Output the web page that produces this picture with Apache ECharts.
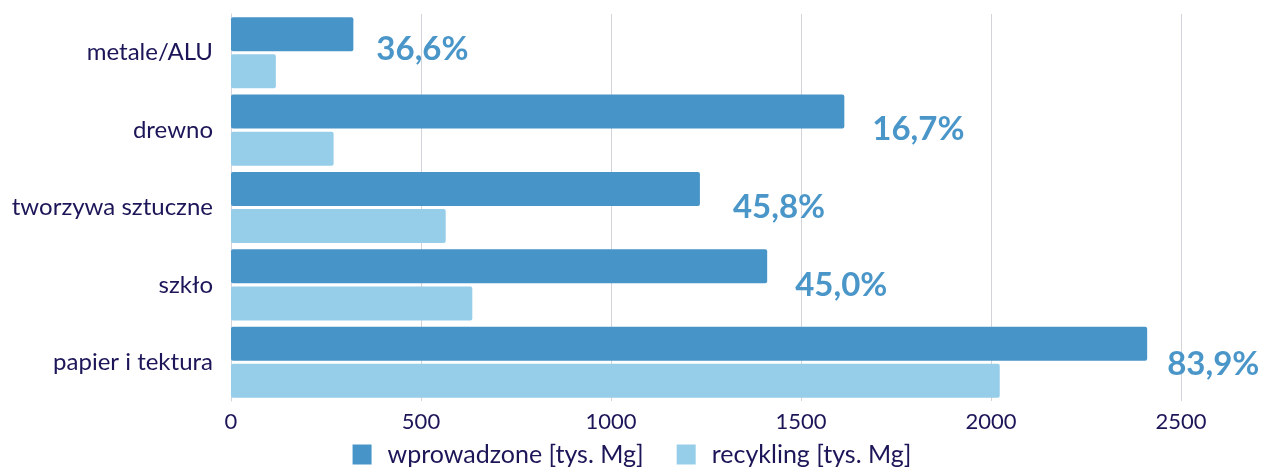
<!DOCTYPE html>
<html>
<head>
<meta charset="utf-8">
<script src="https://cdn.jsdelivr.net/npm/echarts@6/dist/echarts.min.js"></script>
<style>
  html, body { margin: 0; padding: 0; background: #ffffff; }
  #chart { width: 1264px; height: 469px; }
</style>
</head>
<body>
<div id="chart"></div>
<script>
// Packaging waste by material: amount placed on the market vs. recycled
const categories = ['metale/ALU', 'drewno', 'tworzywa sztuczne', 'szkło', 'papier i tektura'];
const wprowadzone = [322, 1614, 1234, 1411, 2411];
const recykling = [118, 270, 565, 635, 2023];
const recyclingRate = ['36,6%', '16,7%', '45,8%', '45,0%', '83,9%'];
const xTicks = [0, 500, 1000, 1500, 2000, 2500];

// per-category placement of the rate label next to the longer bar
const rateOffsets = [[23, 15], [28, 18], [33, 18], [28, 19], [20, 21]];

const FONT = 'Lato';
const TEXT = '#1c1658';
const DARK = '#4794c8';
const LIGHT = '#96cde9';

const chart = echarts.init(document.getElementById('chart'), null, { renderer: 'canvas' });

chart.setOption({
  animation: false,
  textStyle: { fontFamily: FONT },
  grid: { left: 231, right: 83, top: 14, bottom: 68, containLabel: false },
  legend: {
    bottom: -3,
    left: 'center',
    itemWidth: 19,
    itemHeight: 20,
    itemGap: 33,
    icon: 'rect',
    textStyle: { fontFamily: FONT, fontSize: 25, color: TEXT, padding: [0, 0, 0, 11] },
    data: ['wprowadzone [tys. Mg]', 'recykling [tys. Mg]']
  },
  xAxis: {
    type: 'value',
    min: xTicks[0],
    max: xTicks[xTicks.length - 1],
    interval: xTicks[1] - xTicks[0],
    axisLine: { show: false },
    axisTick: { show: false },
    splitLine: { show: true, lineStyle: { color: '#d3d3dc', width: 1 } },
    axisLabel: {
      fontFamily: FONT, fontSize: 22, color: TEXT, margin: 10,
      formatter: (v) => String(v)
    }
  },
  yAxis: {
    type: 'category',
    inverse: true,
    data: categories,
    axisLine: { show: true, lineStyle: { color: '#d3d3dc' } },
    axisTick: { show: false },
    axisLabel: { fontFamily: FONT, fontSize: 24, color: TEXT, margin: 18 }
  },
  series: [
    {
      name: 'wprowadzone [tys. Mg]',
      type: 'bar',
      barWidth: 34,
      barGap: '9%',
      itemStyle: { color: DARK, borderRadius: 2 },
      data: wprowadzone.map((v, i) => ({
        value: v,
        label: {
          show: true,
          position: 'right',
          distance: 0,
          offset: rateOffsets[i],
          formatter: () => recyclingRate[i],
          fontFamily: FONT,
          fontWeight: 'bold',
          fontSize: 33,
          color: '#4a96c9'
        }
      }))
    },
    {
      name: 'recykling [tys. Mg]',
      type: 'bar',
      barWidth: 34,
      barGap: '9%',
      itemStyle: { color: LIGHT, borderRadius: 2 },
      data: recykling
    }
  ]
});
</script>
</body>
</html>
